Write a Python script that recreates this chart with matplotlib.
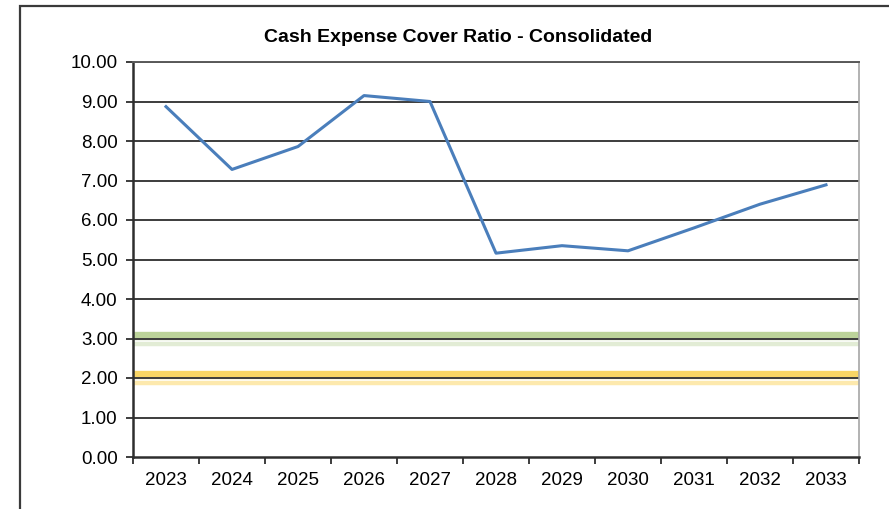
import numpy as np
import matplotlib.pyplot as plt
import matplotlib.transforms as mtransforms
from matplotlib.patches import Rectangle

plt.rcParams['font.family'] = ['Liberation Sans', 'DejaVu Sans']

# cash expense cover ratio by year
years = ['2023', '2024', '2025', '2026', '2027', '2028',
         '2029', '2030', '2031', '2032', '2033']
ratio = [8.87, 7.28, 7.86, 9.15, 9.00, 5.16, 5.35, 5.22, 5.80, 6.40, 6.89]

# benchmark levels
green_level = 3.0
amber_level = 2.0

fig = plt.figure(figsize=(8.89, 5.09), dpi=100)
ax = fig.add_axes([133/889, 1 - 457/509, 726/889, 395/509])

# chart area border (runs off the right and bottom edge)
fig.patches.append(Rectangle((20/889, -0.1), 1.2, 1 - 6/509 + 0.1,
                             transform=fig.transFigure, fill=False,
                             edgecolor='#3a3a3a', linewidth=1.6))

x = np.arange(len(years))

# gridlines
for v in range(1, 11):
    ax.axhline(v, color='#3c3c3c', linewidth=1.4, zorder=2)

# benchmark bands with soft shadow underneath
up = mtransforms.offset_copy(ax.transData, fig=fig, x=0, y=3, units='dots')
down = mtransforms.offset_copy(ax.transData, fig=fig, x=0, y=-5, units='dots')
ax.plot([-0.5, 10.5], [green_level] * 2, color='#e2ecd5', linewidth=3.2,
        transform=down, zorder=1, solid_capstyle='butt')
ax.plot([-0.5, 10.5], [green_level] * 2, color='#bcd39a', linewidth=6,
        transform=up, zorder=1, solid_capstyle='butt')
ax.plot([-0.5, 10.5], [amber_level] * 2, color='#fde9ad', linewidth=3.2,
        transform=down, zorder=1, solid_capstyle='butt')
ax.plot([-0.5, 10.5], [amber_level] * 2, color='#f9d565', linewidth=6,
        transform=up, zorder=1, solid_capstyle='butt')

ax.plot(x, ratio, color='#4a7ebb', linewidth=2.2, zorder=3)

ax.set_xlim(-0.5, len(years) - 0.5)
ax.set_ylim(0, 10)

ax.set_yticks(np.arange(0, 11, 1))
ax.set_yticklabels([f'{v:.2f}' for v in range(11)], fontsize=13.5)
ax.tick_params(axis='y', length=5, width=1.4, color='#3c3c3c', pad=6)

ax.set_xticks(np.arange(-0.5, len(years), 1))
ax.set_xticklabels([])
ax.set_xticks(x, minor=True)
ax.set_xticklabels(years, minor=True, fontsize=13.5)
ax.tick_params(axis='x', which='major', length=5, width=1.4, color='#3c3c3c')
ax.tick_params(axis='x', which='minor', length=0, pad=11)

ax.spines['left'].set_color('#2e2e2e')
ax.spines['left'].set_linewidth(1.8)
ax.spines['bottom'].set_color('#2e2e2e')
ax.spines['bottom'].set_linewidth(1.8)
ax.spines['top'].set_color('#5a5a5a')
ax.spines['top'].set_linewidth(1.4)
ax.spines['right'].set_color('#a6a6a6')
ax.spines['right'].set_linewidth(1.2)

fig.text(458/889, 1 - 38/509, 'Cash Expense Cover Ratio - Consolidated',
         ha='center', va='center', fontsize=14, fontweight='bold')

fig.savefig('out.png', dpi=100)
